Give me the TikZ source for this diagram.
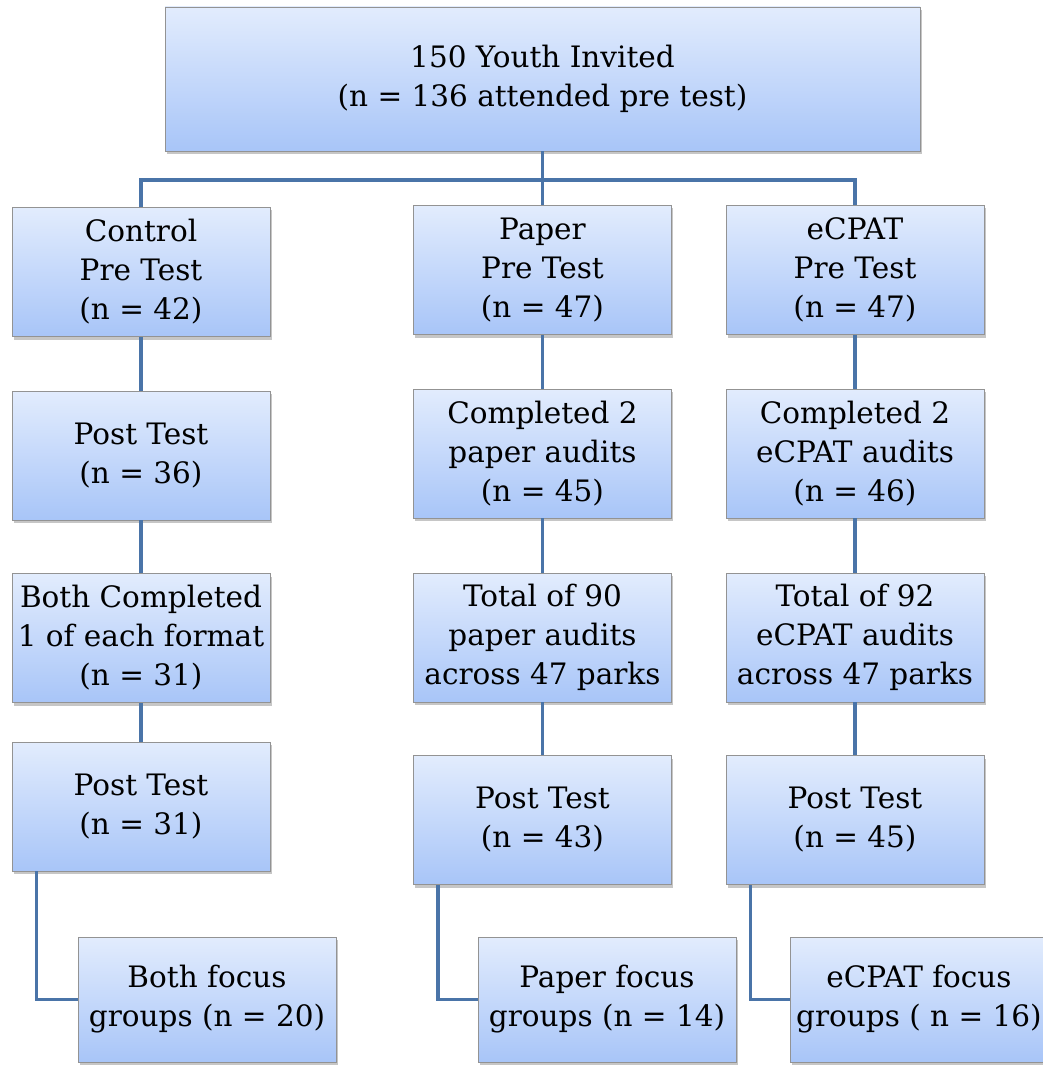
\documentclass[tikz,border=0pt]{standalone}
\usepackage{fontspec}
\setmainfont{DejaVu Serif}
\usepackage{tikz}
\usetikzlibrary{shadows,calc}
\definecolor{linkblue}{HTML}{4A74A8}
\definecolor{boxtop}{HTML}{E2ECFD}
\definecolor{boxbot}{HTML}{A8C5F8}
\tikzset{
  stagebox/.style={rectangle, draw=gray!85, line width=0.9pt, top color=boxtop, bottom color=boxbot,
    drop shadow={shadow xshift=1.5pt, shadow yshift=-3pt, opacity=0.45},
    minimum width=258pt, minimum height=129pt, align=center, inner sep=1pt,
    font=\fontsize{29.5}{39}\selectfont},
  link/.style={draw=linkblue, line width=3.4pt}
}
\begin{document}
\begin{tikzpicture}[x=1pt,y=-1pt]
\useasboundingbox (0,0) rectangle (1042,1067);
\node[stagebox, minimum width=755pt, minimum height=144pt] (top) at (542.5,79) {150 Youth Invited\\(n = 136 attended pre test)};

\node[stagebox] (c1) at (141,272) {Control\\Pre Test\\(n = 42)};
\node[stagebox] (c2) at (141,455.5) {Post Test\\(n = 36)};
\node[stagebox] (c3) at (141,638) {Both Completed\\1 of each format\\(n = 31)};
\node[stagebox] (c4) at (141,806.5) {Post Test\\(n = 31)};
\node[stagebox, minimum height=125pt] (c5) at (207,999.5) {Both focus\\groups (n = 20)};

\node[stagebox] (p1) at (542.5,270) {Paper\\Pre Test\\(n = 47)};
\node[stagebox] (p2) at (542.5,453.5) {Completed 2\\paper audits\\(n = 45)};
\node[stagebox] (p3) at (542.5,637.5) {Total of 90\\paper audits\\across 47 parks};
\node[stagebox] (p4) at (542.5,820) {Post Test\\(n = 43)};
\node[stagebox, minimum height=125pt] (p5) at (607,999.5) {Paper focus\\groups (n = 14)};

\node[stagebox] (e1) at (855,270) {eCPAT\\Pre Test\\(n = 47)};
\node[stagebox] (e2) at (855,453.5) {Completed 2\\eCPAT audits\\(n = 46)};
\node[stagebox] (e3) at (855,637.5) {Total of 92\\eCPAT audits\\across 47 parks};
\node[stagebox] (e4) at (855,820) {Post Test\\(n = 45)};
\node[stagebox, minimum height=125pt] (e5) at (919,999.5) {eCPAT focus\\groups ( n = 16)};

\coordinate (split) at (542.5,180);
\draw[link] (top.south) -- (split);
\draw[link] (c1.north) |- (split) -| (e1.north);
\draw[link] (split) -- (p1.north);
\foreach \col in {c,p,e}{
  \draw[link] (\col1.south) -- (\col2.north);
  \draw[link] (\col2.south) -- (\col3.north);
  \draw[link] (\col3.south) -- (\col4.north);
  \draw[link] ($(\col4.south west)+(25,0)$) |- (\col5.west);
}
\end{tikzpicture}
\end{document}
